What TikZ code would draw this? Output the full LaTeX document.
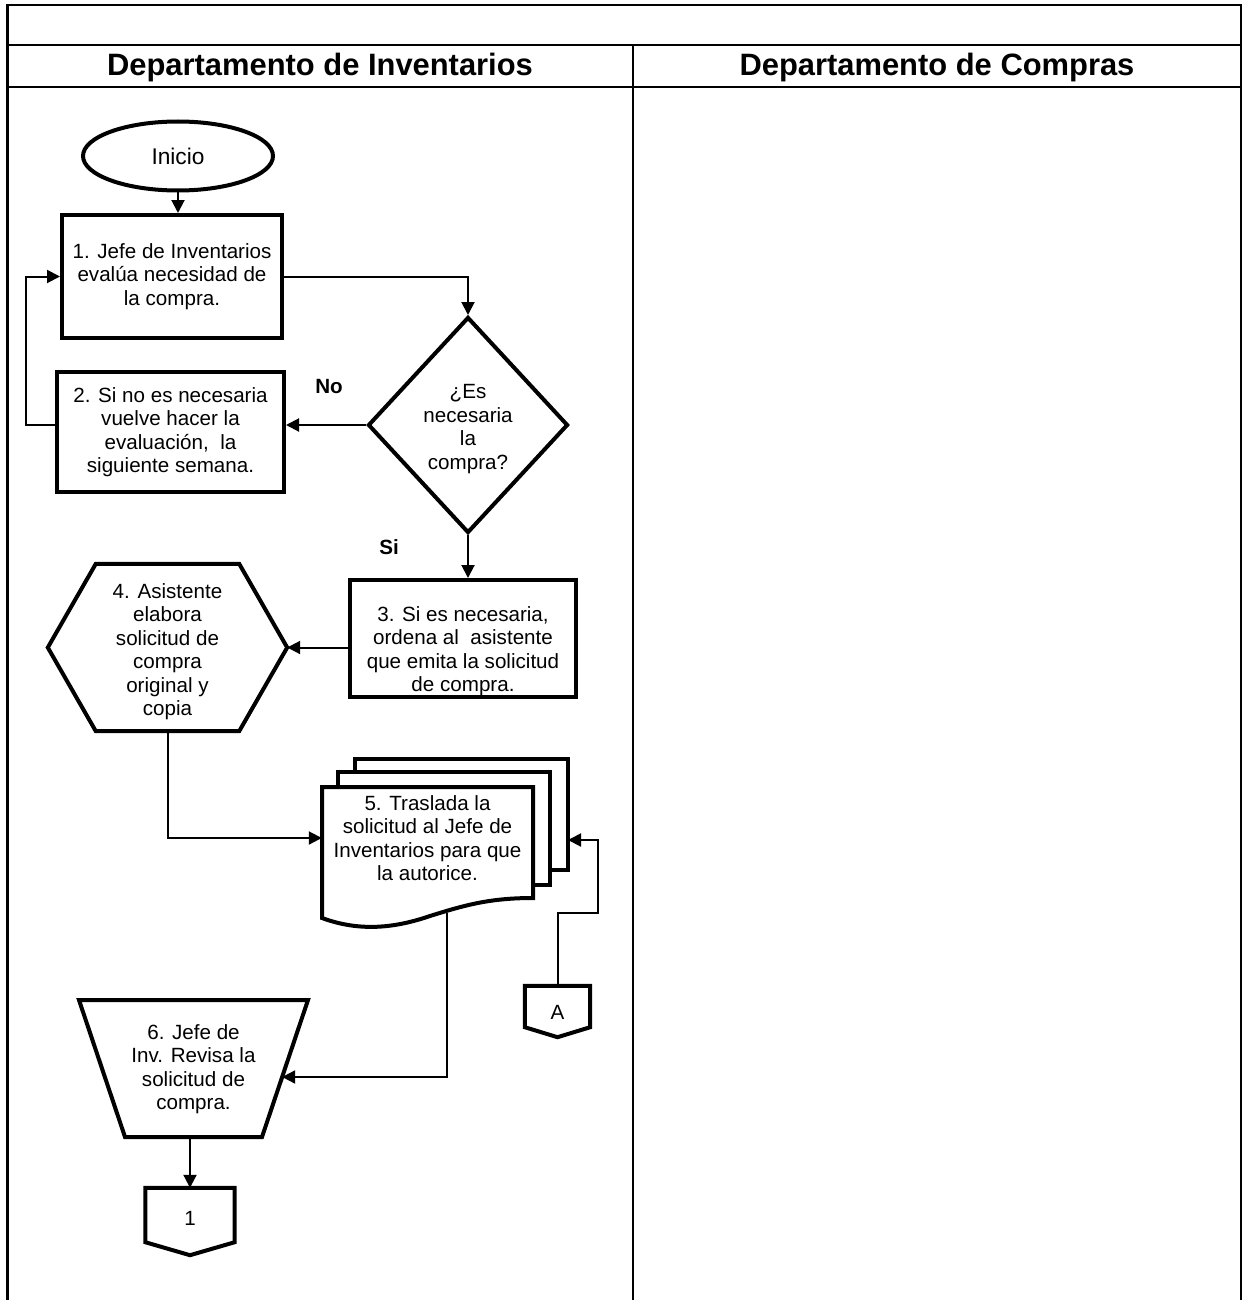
\documentclass[tikz,border=0pt]{standalone}
\usepackage{fontspec}
\setmainfont{Liberation Sans}
\usetikzlibrary{arrows.meta,shapes.geometric,calc}

\tikzset{
  outline/.style={draw=black, line width=4pt, line join=miter},
  shapeline/.style={outline, fill=white},
  txt/.style={font=\fontsize{20.6}{23.5}\selectfont, align=center, inner sep=0pt},
  procbox/.style={shapeline, rectangle, txt},
  lbl/.style={font=\fontsize{20.6}{23.5}\selectfont\bfseries, inner sep=0pt},
  hdr/.style={font=\fontsize{30.9}{36}\selectfont\bfseries, inner sep=0pt},
  flow/.style={line width=2pt, -{Triangle[length=13pt,width=13pt]}},
}

\begin{document}
\begin{tikzpicture}[x=1pt,y=-1pt]
\useasboundingbox (0,0) rectangle (1245,1300);

% table frame and lanes
\draw[line width=2.5pt] (7.5,1300) -- (7.5,5) -- (1241,5) -- (1241,1300);
\draw[line width=2pt] (7.5,45.5) -- (1241,45.5);
\draw[line width=2pt] (7.5,87) -- (1241,87);
\draw[line width=1.2pt] (633,45.5) -- (633,1300);
\node[hdr] (h1) at (320,68) {Departamento de Inventarios};
\node[hdr] (h2) at (937,68) {Departamento de Compras};

% start
\node[shapeline, ellipse, minimum width=190pt, minimum height=69pt, inner sep=0pt,
      font=\fontsize{22.7}{26}\selectfont] (ini) at (178,156) {Inicio};

% step 1
\node[procbox, minimum width=220pt, minimum height=123pt] (b1) at (172,276.5)
  {1. Jefe de Inventarios\\evalúa necesidad de\\la compra.};

% decision
\node[shapeline, diamond, minimum width=200pt, minimum height=216pt, inner sep=0pt] (dec) at (468,425) {};
\node[txt] (dect) at (468,429) {¿Es\\necesaria\\la\\compra?};

% step 2
\node[procbox, minimum width=227pt, minimum height=120pt] (b2) at (170.5,432)
  {2. Si no es necesaria\\vuelve hacer la\\evaluación,\ \ la\\siguiente semana.};

% step 3
\node[procbox, minimum width=226pt, minimum height=117pt] (b3) at (463,638.5) {};
\node[txt] (b3t) at (463,651)
  {3. Si es necesaria,\\ordena al\ \ asistente\\que emita la solicitud\\de compra.};

% step 4 (hexagon)
\node[txt, minimum width=239pt, minimum height=167pt] (h4) at (167.5,647.5) {};
\draw[outline] (h4.west) -- ($(h4.north west)+(48,0)$) -- ($(h4.north east)+(-48,0)$)
  -- (h4.east) -- ($(h4.south east)+(-48,0)$) -- ($(h4.south west)+(48,0)$) -- cycle;
\node[txt] (h4t) at (167.5,651.5)
  {4. Asistente\\elabora\\solicitud de\\compra\\original y\\copia};

% step 5 (stack of documents)
\draw[shapeline] (355,759) rectangle (568,870);
\draw[shapeline] (338,772) rectangle (550,885);
\draw[shapeline] (322,787) -- (533,787) -- (533,898)
  .. controls (490,898) and (465,905) .. (430,916)
  .. controls (395,928) and (360,932) .. (322,918) -- cycle;
\node[txt, minimum width=211pt] (doc) at (427.5,838)
  {5. Traslada la\\solicitud al Jefe de\\Inventarios para que\\la autorice.};
\coordinate (docb) at (447,913);
\coordinate (backE) at (568,840);

% step 6 (trapezoid)
\coordinate (t6nw) at (79,1000);
\coordinate (t6ne) at (308,1000);
\coordinate (t6se) at (262,1137);
\coordinate (t6sw) at (125,1137);
\draw[outline] (t6nw) -- (t6ne) -- (t6se) -- (t6sw) -- cycle;
\node[txt] (t6) at (193.5,1069) {6. Jefe de\\Inv. Revisa la\\solicitud de\\compra.};
\coordinate (t6in) at ($(t6ne)!0.562!(t6se)$);
\coordinate (t6out) at ($(t6sw)!0.5!(t6se)$);

% off-page connectors
\node[txt, minimum width=89pt, minimum height=54pt] (c1) at (190,1215) {};
\draw[outline] (c1.north west) -- (c1.north east) -- (c1.south east)
  -- ($(c1.south)+(0,13)$) -- (c1.south west) -- cycle;
\node[txt] (c1t) at (190,1218) {1};
\node[txt, minimum width=65pt, minimum height=41pt] (ca) at (557.5,1006.5) {};
\draw[outline] (ca.north west) -- (ca.north east) -- (ca.south east)
  -- ($(ca.south)+(0,10)$) -- (ca.south west) -- cycle;
\node[txt] (cat) at (557.5,1012) {A};

% labels
\node[lbl] (no) at (329,387) {No};
\node[lbl] (si) at (389,547) {Si};

% connectors
\draw[flow] (ini.south) -- (ini.south |- b1.north);
\draw[flow] (b1.east) -| (dec.north);
\draw[flow] (dec.west) -- (dec.west -| b2.east);
\draw[flow] (dec.west -| b2.west) -- ++(-29,0) |- (b1.west);
\draw[flow] (dec.south) -- (dec.south |- b3.north);
\draw[flow] (b3.west |- h4.east) -- (h4.east);
\draw[flow] (h4.south) |- (doc.west);
\draw[flow] (ca.north) -- ++(0,-73) -- ++(40.5,0) |- (backE);
\draw[flow] (docb) |- (t6in);
\draw[flow] (t6out -| c1.north) -- (c1.north);
\end{tikzpicture}
\end{document}
